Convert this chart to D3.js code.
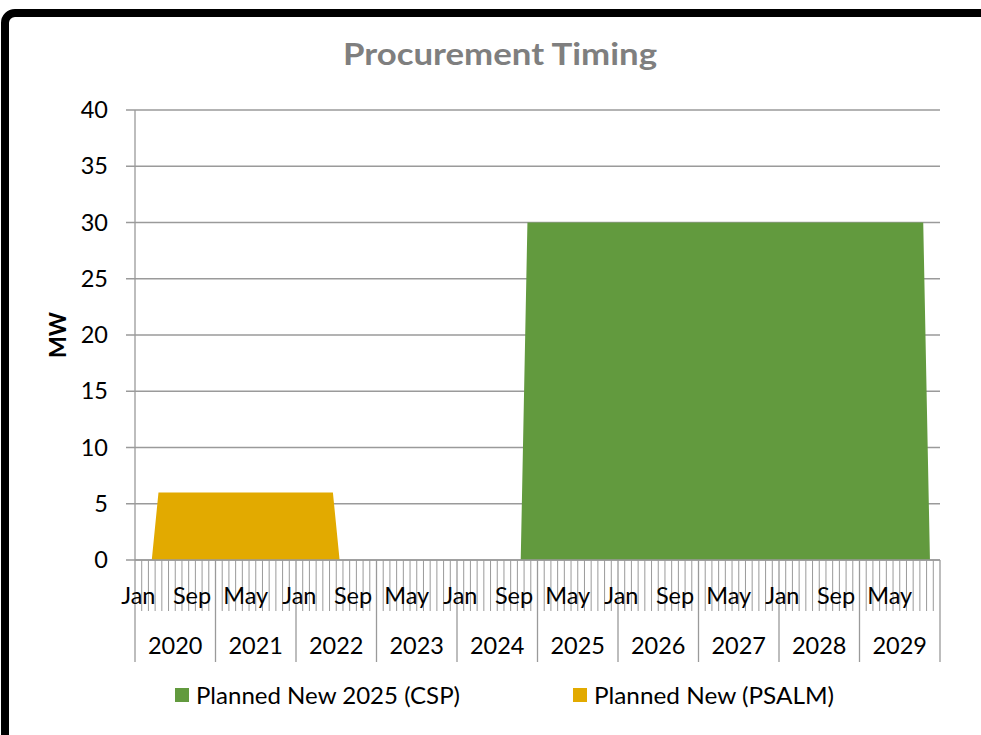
<!DOCTYPE html>
<html><head><meta charset="utf-8">
<script src="https://cdn.jsdelivr.net/npm/d3@7"></script>
<style>body{margin:0;background:#fff}svg{display:block}</style>
</head><body><svg id="c" width="981" height="735"></svg>
<script>
const years = ["2020","2021","2022","2023","2024","2025","2026","2027","2028","2029"];
const monthNames = ["Jan","Feb","Mar","Apr","May","Jun","Jul","Aug","Sep","Oct","Nov","Dec"];
// Planned New 2025 (CSP), MW, monthly Jan 2020 .. Dec 2029
const cspValues = [
  0,0,0,0,0,0,0,0,0,0,0,0,
  0,0,0,0,0,0,0,0,0,0,0,0,
  0,0,0,0,0,0,0,0,0,0,0,0,
  0,0,0,0,0,0,0,0,0,0,0,0,
  0,0,0,0,0,0,0,0,0,0,30,30,
  30,30,30,30,30,30,30,30,30,30,30,30,
  30,30,30,30,30,30,30,30,30,30,30,30,
  30,30,30,30,30,30,30,30,30,30,30,30,
  30,30,30,30,30,30,30,30,30,30,30,30,
  30,30,30,30,30,30,30,30,30,30,0,0
];
// Planned New (PSALM), MW
const psalmValues = [
  0,0,0,6,6,6,6,6,6,6,6,6,
  6,6,6,6,6,6,6,6,6,6,6,6,
  6,6,6,6,6,6,0,0,0,0,0,0,
  0,0,0,0,0,0,0,0,0,0,0,0,
  0,0,0,0,0,0,0,0,0,0,0,0,
  0,0,0,0,0,0,0,0,0,0,0,0,
  0,0,0,0,0,0,0,0,0,0,0,0,
  0,0,0,0,0,0,0,0,0,0,0,0,
  0,0,0,0,0,0,0,0,0,0,0,0,
  0,0,0,0,0,0,0,0,0,0,0,0
];
const yTicks = [0,5,10,15,20,25,30,35,40];
const seriesNames = ["Planned New 2025 (CSP)", "Planned New (PSALM)"];
const seriesColors = ["#629A3E", "#E2AA00"];
const monthLabelStep = 8;
const title = "Procurement Timing";
const yTitle = "MW";

const categories = [];
years.forEach(yr => monthNames.forEach(m => categories.push(m + " " + yr)));

const font = "Lato, 'Open Sans', sans-serif";
const fs = 23.5;
const svg = d3.select("#c");
svg.append("rect").attr("width",981).attr("height",735).attr("fill","#fff");

const L = 135, R = 940, T = 110, B = 560;
const x = d3.scaleBand().domain(categories).range([L, R]).padding(0);
const bw = x.bandwidth();
const cx = c => x(c) + bw / 2;
const y = d3.scaleLinear().domain([0, 40]).range([B, T]);
const grid = "#9a9a9a";

// gridlines + y ticks
yTicks.forEach(t => {
  svg.append("line").attr("x1", L - 9).attr("x2", R).attr("y1", y(t)).attr("y2", y(t))
    .attr("stroke", grid).attr("stroke-width", 1.3);
  svg.append("text").attr("x", 108).attr("y", y(t) + 8).attr("text-anchor", "end")
    .attr("font-family", font).attr("font-size", fs).attr("fill", "#000").text(t);
});

// areas
const area = d3.area().x(d => cx(d.c)).y0(y(0)).y1(d => y(d.v));
const seriesData = [cspValues, psalmValues];
seriesData.forEach((vals, si) => {
  const d = categories.map((c, i) => ({c, v: vals[i]}));
  svg.append("path").attr("d", area(d)).attr("fill", seriesColors[si]);
});

// x axis
const ax = svg.append("g").attr("stroke", grid).attr("stroke-width", 1.3);
ax.append("line").attr("x1", L).attr("x2", R).attr("y1", B).attr("y2", B);
ax.append("line").attr("x1", L).attr("x2", L).attr("y1", T).attr("y2", B);
const bounds = categories.map(c => x(c)).concat([x.range()[1]]);
bounds.forEach((bx, i) => {
  const major = i % 12 === 0;
  ax.append("line").attr("x1", bx).attr("x2", bx).attr("y1", B)
    .attr("y2", major ? 662 : 611).attr("stroke-width", major ? 1.3 : 1);
});

// month labels
categories.forEach((c, i) => {
  if (i % monthLabelStep !== 0) return;
  svg.append("text").attr("x", cx(c)).attr("y", 604).attr("text-anchor", "middle")
    .attr("font-family", font).attr("font-size", fs).attr("fill", "#000")
    .text(c.split(" ")[0]);
});
// year labels
years.forEach((yr, k) => {
  const x0 = x(categories[k * 12]);
  svg.append("text").attr("x", x0 + bw * 6).attr("y", 654).attr("text-anchor", "middle")
    .attr("font-family", font).attr("font-size", fs).attr("fill", "#000").text(yr);
});

// y title
svg.append("text").attr("transform", `translate(66,${(T + B) / 2}) rotate(-90)`)
  .attr("text-anchor", "middle").attr("font-family", font).attr("font-weight", "bold")
  .attr("font-size", 23).attr("fill", "#000").text(yTitle);

// title
function fit(sel, w) {
  const n = sel.node().getComputedTextLength();
  if (n > 0) sel.attr("textLength", w).attr("lengthAdjust", "spacingAndGlyphs");
}
const tt = svg.append("text").attr("x", 343).attr("y", 65)
  .attr("font-family", font).attr("font-weight", "bold").attr("font-size", 31)
  .attr("fill", "#7F7F7F").text(title);
fit(tt, 314);

// legend
const legX = [175, 573], legW = [264, 240];
seriesNames.forEach((n, i) => {
  svg.append("rect").attr("x", legX[i]).attr("y", 688).attr("width", 14).attr("height", 14)
    .attr("fill", seriesColors[i]);
  const t = svg.append("text").attr("x", legX[i] + 21).attr("y", 704)
    .attr("font-family", font).attr("font-size", fs).attr("fill", "#000").text(n);
  fit(t, legW[i]);
});

// outer border
svg.append("rect").attr("x", 5).attr("y", 13).attr("width", 1200).attr("height", 1200)
  .attr("rx", 10).attr("fill", "none").attr("stroke", "#000").attr("stroke-width", 8);
</script></body></html>
